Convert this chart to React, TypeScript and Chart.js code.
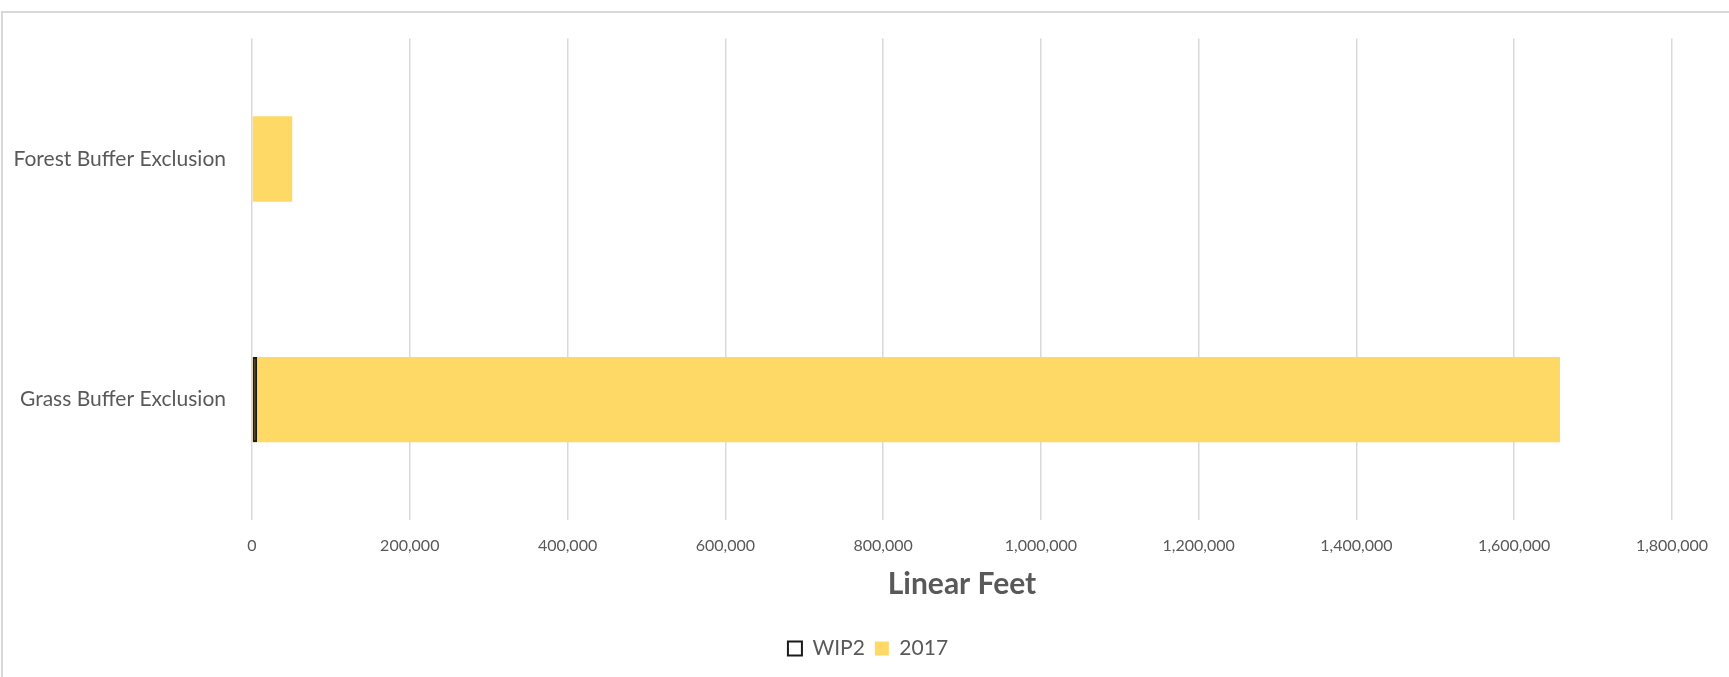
import React, { useEffect, useRef } from "react";
import { Chart, registerables } from "chart.js";

Chart.register(...registerables);

// Practice categories (top to bottom)
const categories = ["Forest Buffer Exclusion", "Grass Buffer Exclusion"];

// Linear feet by scenario
const wip2Values: (number | null)[] = [null, 6500];
const values2017: number[] = [51000, 1658000];

// Horizontal axis range
const axisMax = 1800000;
const axisStep = 200000;

const TEXT = "#595959";
const GRID = "#d9d9d9";
const GOLD = "#ffd966";
const FONT = "Lato, 'Open Sans', sans-serif";

export default function App() {
  const canvasRef = useRef<HTMLCanvasElement | null>(null);

  useEffect(() => {
    const canvas = canvasRef.current;
    if (!canvas) return;
    const chart = new Chart(canvas, {
      type: "bar",
      data: {
        labels: categories,
        datasets: [
          {
            label: "WIP2",
            data: wip2Values,
            backgroundColor: "rgba(0,0,0,0)",
            borderColor: "#1a1a1a",
            borderWidth: 2,
            borderSkipped: false,
            grouped: false,
            categoryPercentage: 1,
            barPercentage: 0.355,
          },
          {
            label: "2017",
            data: values2017,
            backgroundColor: GOLD,
            borderWidth: 0,
            grouped: false,
            categoryPercentage: 1,
            barPercentage: 0.355,
          },
        ],
      },
      options: {
        indexAxis: "y",
        responsive: false,
        animation: false,
        layout: { padding: { top: 35, right: 0, bottom: 8, left: 7 } },
        plugins: {
          tooltip: { enabled: false },
          legend: {
            position: "bottom",
            labels: {
              color: TEXT,
              font: { family: FONT, size: 21 },
              boxWidth: 14,
              boxHeight: 14,
              padding: 10,
            },
          },
        },
        scales: {
          x: {
            type: "linear",
            min: 0,
            max: axisMax,
            grid: { color: GRID, lineWidth: 1.5, drawTicks: false },
            border: { display: false },
            ticks: {
              stepSize: axisStep,
              color: TEXT,
              padding: 16,
              font: { family: FONT, size: 16 },
              callback: (v: any) => Number(v).toLocaleString("en-US"),
            },
            title: {
              display: true,
              text: "Linear Feet",
              color: TEXT,
              font: { family: FONT, size: 30, weight: "bold" },
              padding: { top: 0, bottom: 26 },
            },
            afterFit: (scale: any) => {
              scale.height = 108;
            },
          },
          y: {
            grid: { display: false, drawTicks: false },
            border: { display: false },
            ticks: {
              color: TEXT,
              padding: 26,
              font: { family: FONT, size: 21 },
            },
            afterFit: (scale: any) => {
              scale.width = 245;
            },
          },
          // empty right-hand margin beside the plot
          yRight: {
            type: "category",
            position: "right",
            grid: { display: false, drawTicks: false },
            border: { display: false },
            ticks: { display: false },
            afterFit: (scale: any) => {
              scale.width = 57;
            },
          },
        },
      },
    });
    return () => chart.destroy();
  }, []);

  return (
    <div
      style={{
        position: "fixed",
        left: 0,
        top: 0,
        width: 1729,
        height: 677,
        background: "#ffffff",
        overflow: "hidden",
      }}
    >
      <div
        style={{
          position: "absolute",
          left: 1,
          top: 11,
          width: 1740,
          height: 700,
          borderTop: `2px solid ${GRID}`,
          borderLeft: `2px solid ${GRID}`,
        }}
      />
      <canvas
        ref={canvasRef}
        width={1729}
        height={677}
        style={{ position: "absolute", left: 0, top: 0 }}
      />
    </div>
  );
}
